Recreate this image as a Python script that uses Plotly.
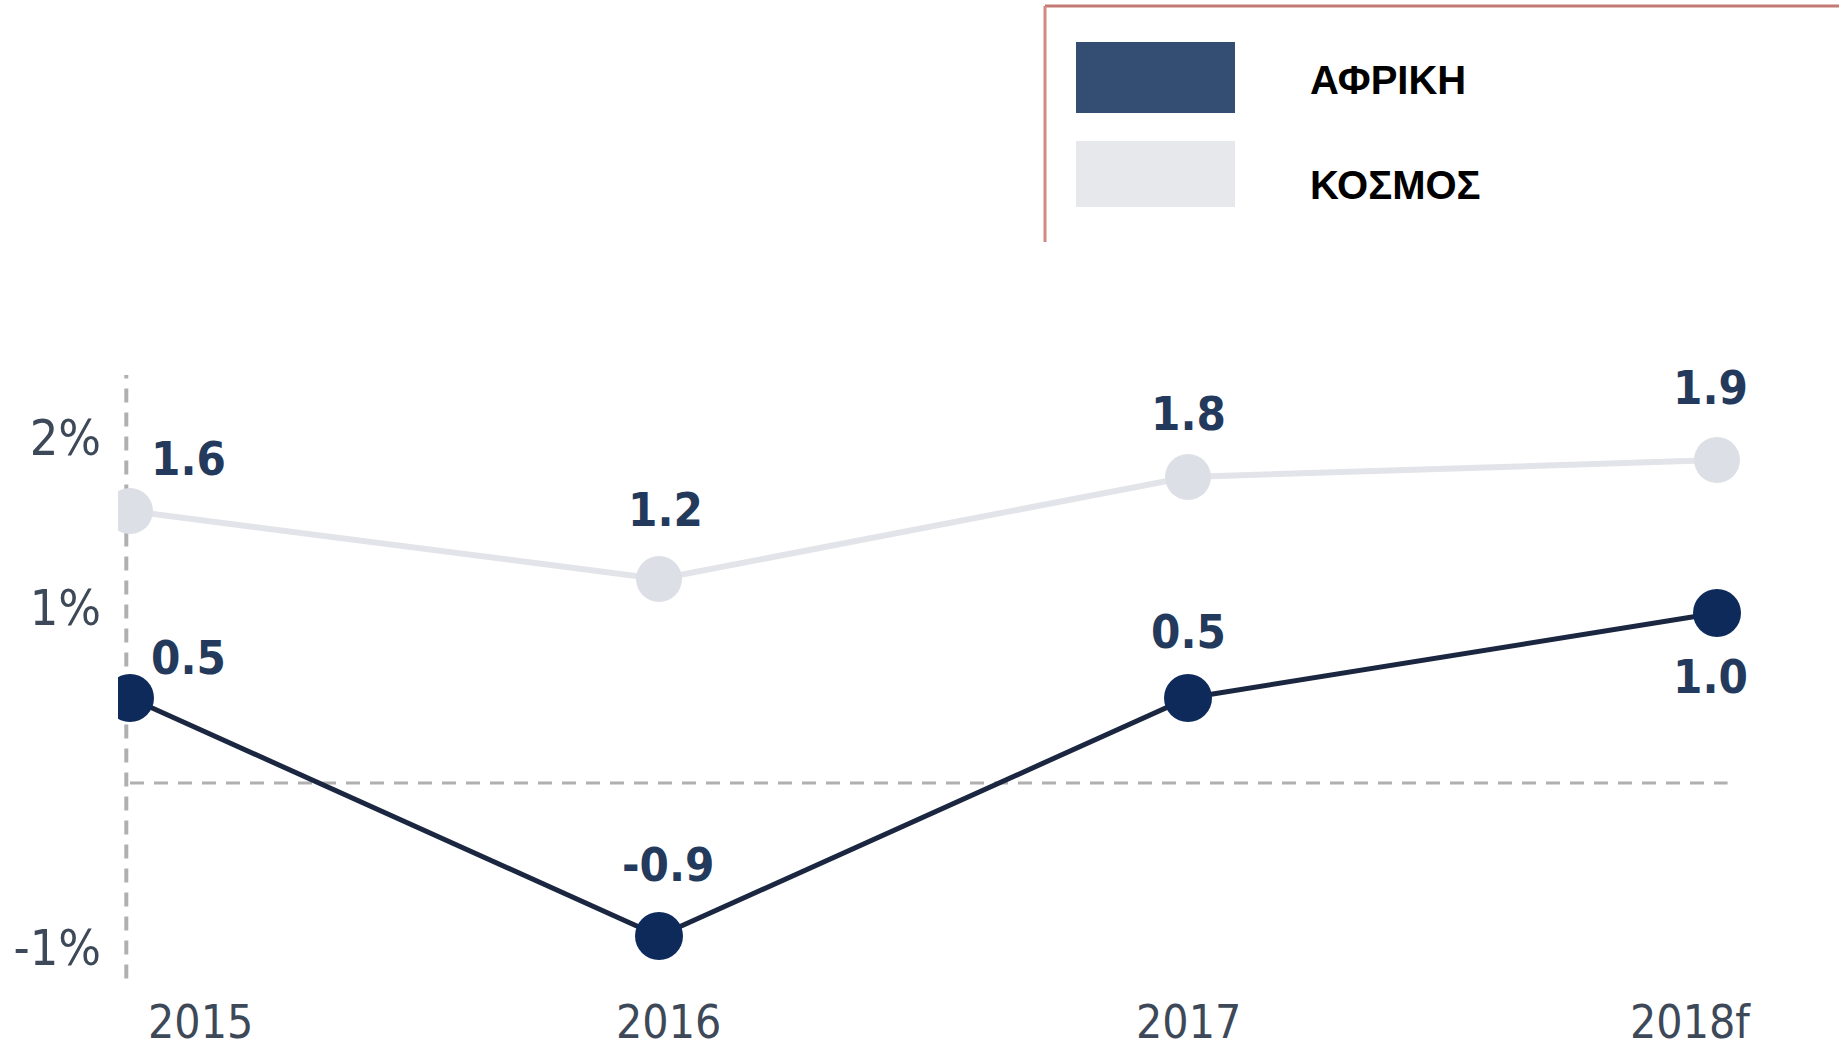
import plotly.graph_objects as go

# ---- data ----
years = ["2015", "2016", "2017", "2018f"]
africa = [0.5, -0.9, 0.5, 1.0]
world = [1.6, 1.2, 1.8, 1.9]
africa_labels = ["0.5", "-0.9", "0.5", "1.0"]
world_labels = ["1.6", "1.2", "1.8", "1.9"]
ytick_vals = [-1, 1, 2]
ytick_text = ["-1%", "1%", "2%"]
legend_names = ["ΑΦΡΙΚΗ", "ΚΟΣΜΟΣ"]

# ---- styling / layout ----
W, H = 1847, 1048
L, R, T, B = 118, 87, 250, 48
PW, PH = W - L - R, H - T - B

def px_x(px):
    return (px - L) / PW

def px_y(py):
    return (H - B - py) / PH

AFR_LINE = "#1b2740"
AFR_MARK = "#0d2a5a"
WLD_LINE = "#e2e4e9"
WLD_MARK = "#dcdfe5"
LABEL_COL = "#243a5c"
AXIS_COL = "#3d4858"
DASH_COL = "#b0b0b0"
NARROW = "Liberation Sans Narrow, DejaVu Sans Condensed, Arial Narrow, sans-serif"

xs = list(range(len(years)))

fig = go.Figure()
fig.add_trace(go.Scatter(
    x=xs, y=world, mode="lines+markers", name=legend_names[1],
    line=dict(color=WLD_LINE, width=6),
    marker=dict(color=WLD_MARK, size=46), showlegend=False,
))
fig.add_trace(go.Scatter(
    x=xs, y=africa, mode="lines+markers", name=legend_names[0],
    line=dict(color=AFR_LINE, width=5),
    marker=dict(color=AFR_MARK, size=48), showlegend=False,
))

annotations = []
# data labels
world_off = [(58, 53), (6, 70), (0, 64), (-7, 73)]
africa_off = [(58, 41), (9, 72), (0, 67), (-7, -63)]
LBL_FONT = dict(family=NARROW, size=47, color=LABEL_COL, weight="bold")
for i, (lab, v) in enumerate(zip(world_labels, world)):
    dx, dy = world_off[i]
    annotations.append(dict(x=xs[i], y=v, text=lab, showarrow=False,
                            xshift=dx, yshift=dy, font=LBL_FONT))
for i, (lab, v) in enumerate(zip(africa_labels, africa)):
    dx, dy = africa_off[i]
    annotations.append(dict(x=xs[i], y=v, text=lab, showarrow=False,
                            xshift=dx, yshift=dy, font=LBL_FONT))
# x category labels
year_off = [70, 9, 0, -27]
for i, yr in enumerate(years):
    annotations.append(dict(x=xs[i], xref="x", y=px_y(1022), yref="paper",
                            text=yr, showarrow=False, yanchor="middle",
                            xshift=year_off[i],
                            font=dict(family=NARROW, size=46, color=AXIS_COL)))
# legend text
LEG_FONT = dict(family="Liberation Sans, Arial, sans-serif", size=40,
                color="#000000", weight="bold")
annotations.append(dict(x=px_x(1308), y=px_y(80), xref="paper", yref="paper",
                        text=legend_names[0], showarrow=False, xanchor="left",
                        yanchor="middle", font=LEG_FONT))
annotations.append(dict(x=px_x(1308), y=px_y(185), xref="paper", yref="paper",
                        text=legend_names[1], showarrow=False, xanchor="left",
                        yanchor="middle", font=LEG_FONT))

shapes = [
    # zero line
    dict(type="line", xref="x", yref="y", x0=0, x1=3.02, y0=0, y1=0,
         line=dict(color=DASH_COL, width=3, dash="14px,10px"), layer="below"),
    # vertical axis line
    dict(type="line", xref="x", yref="y", x0=-0.007, x1=-0.007, y0=-1.15, y1=2.4,
         line=dict(color=DASH_COL, width=4, dash="14px,10px"), layer="below"),
    # legend frame
    dict(type="line", xref="paper", yref="paper", x0=px_x(1045), x1=px_x(1839),
         y0=px_y(6), y1=px_y(6), line=dict(color="#c47a74", width=3)),
    dict(type="line", xref="paper", yref="paper", x0=px_x(1045), x1=px_x(1045),
         y0=px_y(6), y1=px_y(242), line=dict(color="#d08a80", width=3)),
    # legend swatches
    dict(type="rect", xref="paper", yref="paper", x0=px_x(1076), x1=px_x(1235),
         y0=px_y(42), y1=px_y(113), fillcolor="#334d73", line=dict(width=0)),
    dict(type="rect", xref="paper", yref="paper", x0=px_x(1076), x1=px_x(1235),
         y0=px_y(141), y1=px_y(207), fillcolor="#e6e8ec", line=dict(width=0)),
]

unit = 529.0
x0_px = 130
xmin = -(x0_px - L) / unit
xmax = xmin + PW / unit
zero_px = 783
ppu = 170.0
ymin = -(H - B - zero_px) / ppu
ymax = ymin + PH / ppu

fig.update_layout(
    width=W, height=H,
    margin=dict(l=L, r=R, t=T, b=B, pad=0),
    paper_bgcolor="white", plot_bgcolor="white",
    showlegend=False,
    xaxis=dict(range=[xmin, xmax], showgrid=False, zeroline=False, showline=False,
               showticklabels=False, ticks=""),
    yaxis=dict(range=[ymin, ymax], showgrid=False, zeroline=False, showline=False,
               tickvals=ytick_vals, ticktext=ytick_text, ticks="",
               ticklabelstandoff=16, ticklabelshift=-6,
               tickfont=dict(family=NARROW, size=50, color=AXIS_COL)),
    annotations=annotations,
    shapes=shapes,
)

fig.write_html("out.html", config={"displayModeBar": False},
               post_script="document.body.style.margin='0';document.body.style.overflow='hidden';")
